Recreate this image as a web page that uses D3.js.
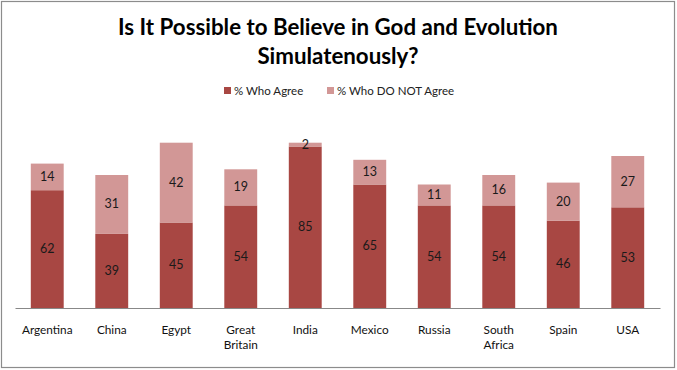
<!DOCTYPE html>
<html><head><meta charset="utf-8">
<script src="https://cdn.jsdelivr.net/npm/d3@7"></script>
<style>
body{margin:0;background:#fff;}
svg{display:block;font-family:Lato,"Open Sans",sans-serif;}
</style></head>
<body><svg id="c" width="677" height="370"></svg>
<script>
const countries = [["Argentina"],["China"],["Egypt"],["Great","Britain"],["India"],["Mexico"],["Russia"],["South","Africa"],["Spain"],["USA"]];
const agree = [62,39,45,54,85,65,54,54,46,53];
const notAgree = [14,31,42,19,2,13,11,16,20,27];
const seriesNames = ["% Who Agree","% Who DO NOT Agree"];
const colors = ["#A84743","#D29796"];
const titleLines = ["Is It Possible to Believe in God and Evolution","Simulatenously?"];

const svg = d3.select("#c");
svg.append("rect").attr("x",1.5).attr("y",1.5).attr("width",673).attr("height",366)
  .attr("fill","#fff").attr("stroke","#8c8c8c").attr("stroke-width",1.2);

const x = d3.scaleBand().domain(countries.map((d,i)=>i)).range([15,660]).paddingInner(0.49).paddingOuter(0.245);
const y = d3.scaleLinear().domain([0,100]).range([308,118]);

const title = svg.append("text").attr("text-anchor","middle").attr("font-weight","bold")
  .attr("font-size",22.3).attr("fill","#000");
titleLines.forEach((t,i)=>title.append("tspan").attr("x",338).attr("y",35+i*29).text(t));

// legend
const leg = svg.append("g").attr("font-size",11.5).attr("fill","#222");
const legX = [224,327];
seriesNames.forEach((n,i)=>{
  leg.append("rect").attr("x",legX[i]).attr("y",87).attr("width",7).attr("height",7).attr("fill",colors[i]);
  leg.append("text").attr("x",legX[i]+10).attr("y",95).attr("fill","#222").text(n);
});

const stack = countries.map((c,i)=>({i, a:agree[i], n:notAgree[i]}));
const g = svg.append("g");
g.selectAll("rect.a").data(stack).join("rect").attr("class","a")
  .attr("x",d=>x(d.i)).attr("width",x.bandwidth())
  .attr("y",d=>y(d.a)).attr("height",d=>y(0)-y(d.a)).attr("fill",colors[0]);
g.selectAll("rect.n").data(stack).join("rect").attr("class","n")
  .attr("x",d=>x(d.i)).attr("width",x.bandwidth())
  .attr("y",d=>y(d.a+d.n)).attr("height",d=>y(d.a)-y(d.a+d.n)).attr("fill",colors[1]);

const lab = svg.append("g").attr("font-size",12.5).attr("fill","#1a1a1a").attr("text-anchor","middle");
lab.selectAll("text.a").data(stack).join("text")
  .attr("x",d=>x(d.i)+x.bandwidth()/2).attr("y",d=>y(d.a/2)+4).text(d=>d.a);
lab.selectAll("text.n").data(stack).join("text")
  .attr("x",d=>x(d.i)+x.bandwidth()/2).attr("y",d=>y(d.a+d.n/2)+4).text(d=>d.n);

// x axis
const ax = d3.axisBottom(x).tickSize(0).tickFormat("");
const axG = svg.append("g").attr("transform","translate(0,308)").call(ax);
axG.select(".domain").attr("stroke","#888").attr("stroke-width",1.2);
const xl = svg.append("g").attr("font-size",11.8).attr("fill","#111").attr("text-anchor","middle");
countries.forEach((c,i)=>{
  const t = xl.append("text").attr("y",334);
  c.forEach((line,j)=>t.append("tspan").attr("x",x(i)+x.bandwidth()/2).attr("dy",j?15:0).text(line));
});
</script></body></html>
